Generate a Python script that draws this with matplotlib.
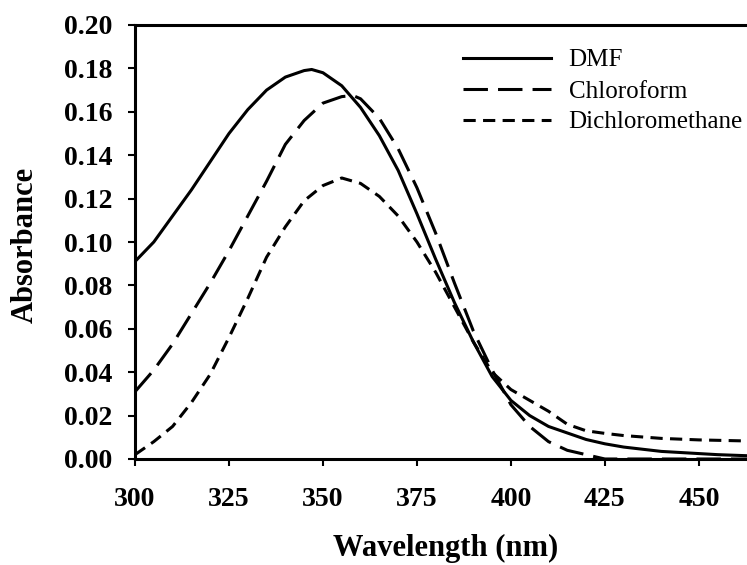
import numpy as np
import matplotlib
matplotlib.use("Agg")
from matplotlib import pyplot as plt

# values
wl_dmf = [300, 305, 310, 315, 320, 325, 330, 335, 340, 345, 347, 350, 355, 360, 365,
          370, 375, 380, 385, 390, 395, 400, 405, 410, 415, 420, 425, 430, 435, 440,
          445, 450, 455, 463]
abs_dmf = [0.091, 0.100, 0.112, 0.124, 0.137, 0.150, 0.161, 0.170, 0.176, 0.179, 0.1795,
           0.178, 0.172, 0.162, 0.149, 0.133, 0.113, 0.092, 0.072, 0.054, 0.038, 0.027,
           0.020, 0.015, 0.012, 0.009, 0.007, 0.0055, 0.0045, 0.0035, 0.003, 0.0025,
           0.002, 0.0015]

wl_chl = [300, 305, 310, 315, 320, 325, 330, 335, 340, 345, 350, 355, 358, 360, 365,
          370, 375, 380, 385, 390, 395, 400, 405, 410, 415, 420, 425, 463]
abs_chl = [0.031, 0.041, 0.053, 0.067, 0.081, 0.096, 0.112, 0.128, 0.145, 0.156, 0.164,
           0.167, 0.1675, 0.166, 0.157, 0.143, 0.125, 0.104, 0.081, 0.059, 0.041, 0.025,
           0.015, 0.008, 0.004, 0.002, 0.0, 0.0]

wl_dcm = [300, 305, 310, 315, 320, 325, 330, 335, 340, 345, 350, 355, 360, 365, 370,
          375, 380, 385, 390, 395, 400, 405, 410, 415, 420, 425, 430, 440, 450, 463]
abs_dcm = [0.002, 0.008, 0.015, 0.026, 0.039, 0.056, 0.074, 0.093, 0.107, 0.119, 0.126,
           0.1295, 0.127, 0.121, 0.112, 0.100, 0.086, 0.070, 0.054, 0.040, 0.032, 0.027,
           0.022, 0.016, 0.013, 0.0118, 0.0108, 0.0095, 0.0088, 0.0083]

labels = ["DMF", "Chloroform", "Dichloromethane"]
xticks = [300, 325, 350, 375, 400, 425, 450]
yticks = [0.00, 0.02, 0.04, 0.06, 0.08, 0.10, 0.12, 0.14, 0.16, 0.18, 0.20]

plt.rcParams['font.family'] = ['Liberation Serif', 'DejaVu Serif']

fig = plt.figure(figsize=(7.47, 5.65), dpi=100)
ax = fig.add_axes([135 / 747, 106 / 565, 1 - 135 / 747, (459 - 25) / 565])

lw = 2.2
ax.plot(wl_dmf, abs_dmf, color='black', lw=lw, solid_joinstyle='round', label=labels[0])
ax.plot(wl_chl, abs_chl, color='black', lw=lw, dashes=(8, 3.3), label=labels[1])
ax.plot(wl_dcm, abs_dcm, color='black', lw=lw, dashes=(4, 2.4), label=labels[2])

ax.set_xlim(300, 462.8)
ax.set_ylim(0, 0.20)
ax.set_xticks(xticks)
ax.set_yticks(yticks)
ax.set_yticklabels(["%.2f" % v for v in yticks])

for s in ['left', 'bottom', 'top']:
    ax.spines[s].set_linewidth(2.2)
ax.spines['right'].set_visible(False)
ax.tick_params(direction='out', length=5, width=1.5, labelsize=20)
ax.tick_params(axis='x', pad=15)
ax.tick_params(axis='y', pad=11.5)
for t in ax.get_xticklabels() + ax.get_yticklabels():
    t.set_fontweight('bold')

ax.set_xlabel("Wavelength (nm)", fontsize=22, fontweight='bold')
ax.xaxis.set_label_coords((446 - 135) / 612, -(534 - 459) / 434)
ax.set_ylabel("Absorbance", fontsize=22, fontweight='bold')
ax.yaxis.set_label_coords(-(135 - 40) / 612, (459 - 245) / 434)

leg = fig.legend(loc='upper left', bbox_to_anchor=(463 / 747, 1 - 49 / 565),
                 frameon=False, fontsize=18, handlelength=3.5, handletextpad=0.72,
                 labelspacing=0.34, borderpad=0, borderaxespad=0)

fig.savefig("out.png", dpi=100)
